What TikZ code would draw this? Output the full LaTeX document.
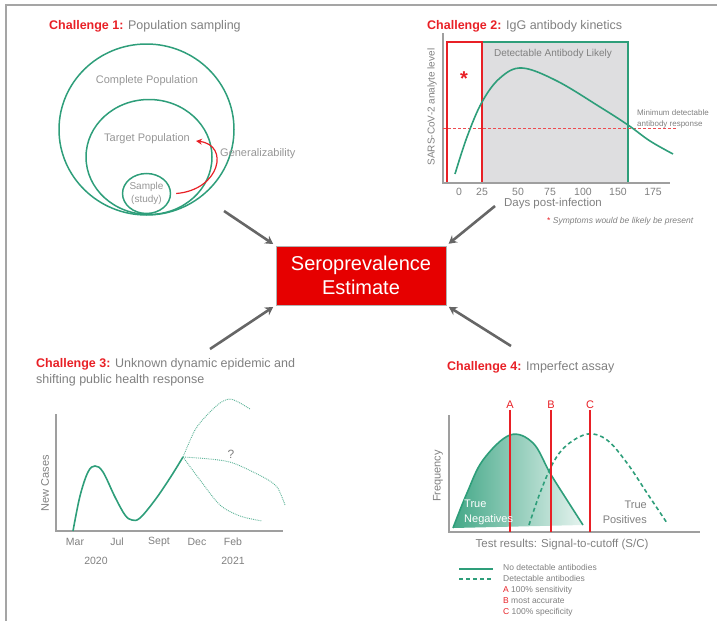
\documentclass[tikz,border=0pt]{standalone}
\usepackage{fontspec}
\setmainfont{Liberation Sans}
\usetikzlibrary{shapes.geometric,arrows.meta,positioning}
\definecolor{grn}{RGB}{46,158,122}
\definecolor{hired}{RGB}{232,32,38}
\definecolor{boxred}{RGB}{230,0,0}
\definecolor{txtgray}{RGB}{128,128,128}
\definecolor{softgray}{RGB}{150,150,150}
\definecolor{framegray}{RGB}{165,165,165}
\definecolor{shadegray}{RGB}{222,222,224}
\tikzset{panelhead/.style={anchor=west, inner sep=0, text=txtgray,
       font=\fontsize{12.5}{16}\selectfont, align=left},
     lbl/.style={inner sep=0, text=txtgray, font=\fontsize{11}{13}\selectfont},
     ticklbl/.style={inner sep=0, text=txtgray, font=\fontsize{10.5}{12}\selectfont},
     smalllbl/.style={inner sep=0, text=txtgray, font=\fontsize{8.5}{11}\selectfont, align=left},
     legendtxt/.style={smalllbl, text height=6.5pt, text depth=2pt},
     popcircle/.style={ellipse, draw=grn, line width=1.5pt, inner sep=0},
     axisline/.style={draw=gray!75, line width=1.6pt},
     grncurve/.style={draw=grn, line width=1.6pt},
     maybecurve/.style={draw=grn!80, line width=0.9pt, densely dotted},
     cutline/.style={draw=hired, line width=1.6pt},
     cutlbl/.style={inner sep=0, text=hired, font=\fontsize{11}{13}\selectfont},
     bigarrow/.style={draw=gray!80!black, line width=2.6pt,
       -{Stealth[length=8pt,width=9pt]}, shorten >=3pt},
     estbox/.style={rectangle, fill=boxred, draw=gray!60, line width=0.6pt,
       minimum width=170pt, minimum height=59pt, text=white, align=center,
       font=\fontsize{20}{24}\selectfont}
}
\newcommand{\chal}[1]{\textcolor{hired}{\textbf{Challenge #1:}}}
\begin{document}
\begin{tikzpicture}[x=1pt, y=-1pt]
    \useasboundingbox (0,0) rectangle (717,621);
    \draw[framegray, line width=2pt] (717,5) -- (6,5) -- (6,621);

    \node[panelhead] (head1) at (49,26) {\chal{1} Population sampling};
    \node[popcircle, minimum width=175pt, minimum height=171pt] (complete) at (146.5,129.5) {};
    \node[popcircle, minimum width=126pt, minimum height=115pt] (target) at (149,157) {};
    \node[popcircle, minimum width=47pt, minimum height=40pt, text=softgray, align=center,
          font=\fontsize{10}{12.5}\selectfont] (sample) at (146.5,193.5) {Sample\\(study)};
    \node[lbl, text=softgray] (clabel) at (147,81) {Complete Population};
    \node[lbl, text=softgray] (tlabel) at (147,139) {Target Population};
    \node[lbl, text=softgray, anchor=west] (gen) at (220,154) {Generalizability};
    \draw[hired, line width=1.2pt, -{Stealth[length=6pt,width=6pt]}]
      ([xshift=5pt]sample.east) .. controls (220,190) and (230,145) .. ([xshift=6pt,yshift=-2pt]tlabel.east);

    \node[panelhead] (head2) at (427,26) {\chal{2} IgG antibody kinetics};
    \draw[grn, line width=1.5pt, fill=shadegray] (482,42) rectangle (628,183);
    \draw[hired, line width=1.5pt] (447,42) rectangle (482,183);
    \draw[axisline] (443,33) -- (443,183) -- (670,183);
    \draw[hired!80, line width=0.7pt, densely dashed] (443,128) -- (677,128);
    \draw[grncurve] plot[smooth, tension=0.6] coordinates {(455,174) (467,137) (482,102) (500,78)
      (522,68) (557,81) (600,107) (628,125) (650,141) (673,154)};
    \node[lbl, font=\fontsize{10}{12}\selectfont] (likely) at (553,54) {Detectable Antibody Likely};
    \node[inner sep=0, text=hired, font=\fontsize{20}{20}\selectfont\bfseries] (star) at (464,79) {*};
    \node[lbl, rotate=90, font=\fontsize{10}{12}\selectfont] (ylab2) at (432,107) {SARS-CoV-2 analyte level};
    \foreach \v/\x in {0/459,25/482,50/518,75/550,100/583,150/618,175/653}
      \node[ticklbl] (t\v) at (\x,192) {\v};
    \node[lbl, font=\fontsize{11.5}{13}\selectfont] (days) at (553,204) {Days post-infection};
    \node[smalllbl, font=\fontsize{8}{11}\selectfont, anchor=west] (mindet) at (637,119)
      {Minimum detectable\\antibody response};
    \node[smalllbl, anchor=west] (sympt) at (547,221)
      {\textcolor{hired}{*}\ \textit{Symptoms would be likely be present}};

    \node[estbox] (est) at (361,275.5) {Seroprevalence\\Estimate};
    \coordinate (from1) at (224,211);
    \coordinate (from2) at (495,206);
    \coordinate (from3) at (210,349);
    \coordinate (from4) at (511,346);
    \draw[bigarrow] (from1) -- (est.north west);
    \draw[bigarrow] (from2) -- (est.north east);
    \draw[bigarrow] (from3) -- (est.south west);
    \draw[bigarrow] (from4) -- (est.south east);

    \node[panelhead, anchor=north west] (head3) at (36,358)
      {\chal{3} Unknown dynamic epidemic and\\shifting public health response};
    \draw[axisline] (56,414) -- (56,531) -- (283,531);
    \draw[grncurve] plot[smooth, tension=0.6] coordinates {(73,531) (80,496) (88,472) (95,466)
      (103,472) (115,497) (125,515) (132,520) (140,518) (155,500) (170,478) (183,457)};
    \draw[maybecurve] plot[smooth] coordinates {(183,457) (195,430) (207,415) (220,403)
      (230,399) (240,403) (250,409)};
    \draw[maybecurve] plot[smooth] coordinates {(183,457) (210,459) (233,463) (263,477)
      (277,487) (285,505)};
    \draw[maybecurve] plot[smooth] coordinates {(183,457) (200,480) (220,505) (240,516)
      (262,521)};
    \node[lbl, font=\fontsize{12}{14}\selectfont] (quest) at (231,454) {?};
    \node[lbl, rotate=90] (ylab3) at (45,483) {New Cases};
    \foreach \m/\x in {Mar/75,Jul/117,Sept/159,Dec/197,Feb/233}
      \node[ticklbl] (m\m) at (\x,542) {\m};
    \node[ticklbl] (y2020) at (96,561) {2020};
    \node[ticklbl] (y2021) at (233,561) {2021};

    \node[panelhead] (head4) at (447,367) {\chal{4} Imperfect assay};
    \shade[left color=grn!90, right color=grn!12] plot[smooth, tension=0.6] coordinates {(453,528)
      (467,493) (483,460) (510,435) (533,443) (550,473) (567,500) (583,525)} -- cycle;
    \draw[grncurve] plot[smooth, tension=0.6] coordinates {(453,528) (467,493) (483,460)
      (510,435) (533,443) (550,473) (567,500) (583,525)};
    \draw[grncurve, dash pattern=on 4pt off 3pt] plot[smooth, tension=0.6] coordinates {(529,525)
      (540,493) (553,463) (567,445) (588,434) (607,440) (627,463) (647,493) (667,523)};
    \draw[axisline] (449,415) -- (449,532) -- (700,532);
    \node[cutlbl] (la) at (510,405) {A};
    \node[cutlbl] (lb) at (551,405) {B};
    \node[cutlbl] (lc) at (590,405) {C};
    \foreach \c in {la,lb,lc}
      \draw[cutline] (\c.south) ++(0,1) -- (\c.south |- 0,532);
    \node[lbl, text=white, align=left, anchor=west, font=\fontsize{11}{15}\selectfont] (trueneg)
      at (464,512) {True\\Negatives};
    \node[lbl, align=right, anchor=east, font=\fontsize{11}{15}\selectfont] (truepos)
      at (647,512) {True\\Positives};
    \node[lbl, rotate=90] (ylab4) at (438,476) {Frequency};
    \node[lbl, font=\fontsize{11.5}{13}\selectfont] (xlab4) at (562,545) {Test results: Signal-to-cutoff (S/C)};
    \node[legendtxt, anchor=west] (lg1) at (503,568) {No detectable antibodies};
    \node[legendtxt, below=2.2pt of lg1.south west, anchor=north west] (lg2) {Detectable antibodies};
    \node[legendtxt, below=2.2pt of lg2.south west, anchor=north west] (lg3) {\textcolor{hired}{A} 100\% sensitivity};
    \node[legendtxt, below=2.2pt of lg3.south west, anchor=north west] (lg4) {\textcolor{hired}{B} most accurate};
    \node[legendtxt, below=2.2pt of lg4.south west, anchor=north west] (lg5) {\textcolor{hired}{C} 100\% specificity};
    \draw[grncurve] ([xshift=-44pt,yshift=-1pt]lg1.west) -- ([xshift=-10pt,yshift=-1pt]lg1.west);
    \draw[grncurve, dash pattern=on 4pt off 3pt] ([xshift=-44pt]lg2.west) -- ([xshift=-10pt]lg2.west);
\end{tikzpicture}
\end{document}
